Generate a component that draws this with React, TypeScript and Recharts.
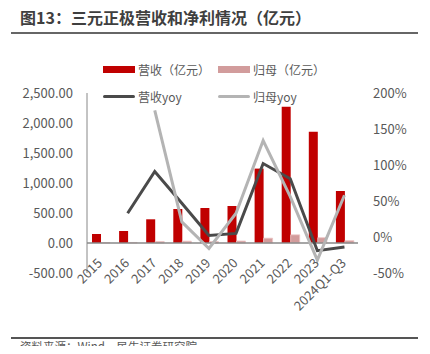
import { ComposedChart, Bar, Line, XAxis, YAxis, Legend, ReferenceLine } from 'recharts';

const years = ['2015', '2016', '2017', '2018', '2019', '2020', '2021', '2022', '2023', '2024Q1-Q3'];
const revenue = [150, 200, 395, 567, 583, 617, 1240, 2272, 1855, 867];
const netProfit = [6, 9, 25, 30, 25, 33, 80, 136, 88, 38];
const revenueYoy = [null, 33, 91, 47, 2, 5, 102, 81, -19, -14];
const profitYoy = [null, null, 176, 21, -16, 33, 134, 56, -32, 58];
const leftTicks = [-500, 0, 500, 1000, 1500, 2000, 2500];
const rightTicks = [-50, 0, 50, 100, 150, 200];

const data = years.map((year, i) => ({
  year,
  revenue: revenue[i],
  netProfit: netProfit[i],
  revenueYoy: revenueYoy[i],
  profitYoy: profitYoy[i],
}));

const FONT = "'Noto Sans CJK SC', 'Noto Sans', sans-serif";
const TEXT = '#595959';
const RED = '#C00000';
const PINK = '#D29C9C';
const DARK = '#4A4A4A';
const LIGHT = '#B4B4B4';

const formatLeft = (v: number) =>
  v.toLocaleString('en-US', { minimumFractionDigits: 2, maximumFractionDigits: 2 });

// category labels sit under the zero line, not under the plot
const XTick = ({ x, payload }: any) => {
  const px = x + 2.5;
  const py = 264;
  return (
    <text
      x={px}
      y={py}
      transform={`rotate(-45 ${px} ${py})`}
      textAnchor="end"
      fill={TEXT}
      fontSize={13}
      fontFamily={FONT}
    >
      {payload.value}
    </text>
  );
};

const legendItems = [
  { label: '营收（亿元）', kind: 'bar', color: RED, left: 103, top: 60 },
  { label: '归母（亿元）', kind: 'bar', color: PINK, left: 218, top: 60 },
  { label: '营收yoy', kind: 'line', color: DARK, left: 103, top: 87 },
  { label: '归母yoy', kind: 'line', color: LIGHT, left: 218, top: 87 },
];

const ChartLegend = () => (
  <div style={{ position: 'relative', width: 430, height: 0 }}>
    {legendItems.map((it) => (
      <div
        key={it.label}
        style={{
          position: 'absolute',
          left: it.left,
          top: it.top,
          height: 18,
          display: 'flex',
          alignItems: 'center',
          fontSize: 12,
          color: TEXT,
          fontFamily: FONT,
          whiteSpace: 'nowrap',
        }}
      >
        {it.kind === 'bar' ? (
          <span style={{ width: 32, height: 7, background: it.color, marginRight: 3 }} />
        ) : (
          <span style={{ width: 32, height: 3, borderRadius: 2, background: it.color, marginRight: 3 }} />
        )}
        {it.label}
      </div>
    ))}
  </div>
);

export default function App() {
  return (
    <div
      style={{
        position: 'relative',
        width: 430,
        height: 354,
        margin: -8,
        overflow: 'hidden',
        background: '#fff',
        fontFamily: FONT,
      }}
    >
      <div
        style={{
          position: 'absolute',
          left: 20,
          top: 5,
          fontSize: 16,
          fontWeight: 'bold',
          color: '#3f3f3f',
          whiteSpace: 'nowrap',
        }}
      >
        图13：三元正极营收和净利情况（亿元）
      </div>
      <div style={{ position: 'absolute', left: 11, top: 32, width: 407, height: 2, background: '#666' }} />

      <div style={{ position: 'absolute', left: 0, top: 0 }}>
        <ComposedChart
          width={430}
          height={336}
          data={data}
          margin={{ top: 93, right: 0, bottom: 0, left: 0 }}
          barGap={0}
        >
          <XAxis dataKey="year" height={63} axisLine={false} tickLine={false} tick={<XTick />} interval={0} />
          <YAxis
            yAxisId="left"
            width={87}
            domain={[-500, 2500]}
            ticks={leftTicks}
            tickFormatter={formatLeft}
            axisLine={{ stroke: '#888' }}
            tickLine={false}
            tickMargin={8}
            tick={{ fill: TEXT, fontSize: 13, fontFamily: FONT }}
          />
          <YAxis
            yAxisId="right"
            orientation="right"
            width={72}
            domain={[-50, 200]}
            ticks={rightTicks}
            tickFormatter={(v: number) => `${v}%`}
            axisLine={false}
            tickLine={false}
            tickMargin={9}
            tick={{ fill: TEXT, fontSize: 13, fontFamily: FONT, textAnchor: 'start' }}
          />
          <Legend verticalAlign="top" content={<ChartLegend />} wrapperStyle={{ top: 0, left: 0 }} />
          <ReferenceLine yAxisId="left" y={0} stroke="#888" strokeWidth={1.5} />
          <Bar yAxisId="left" dataKey="revenue" name="营收（亿元）" fill={RED} barSize={9} isAnimationActive={false} />
          <Bar
            yAxisId="left"
            dataKey="netProfit"
            name="归母（亿元）"
            fill={PINK}
            stroke="#EBC4C4"
            strokeWidth={0.8}
            barSize={9}
            isAnimationActive={false}
          />
          <Line
            yAxisId="right"
            dataKey="revenueYoy"
            name="营收yoy"
            stroke={DARK}
            strokeWidth={3}
            dot={false}
            type="linear"
            isAnimationActive={false}
          />
          <Line
            yAxisId="right"
            dataKey="profitYoy"
            name="归母yoy"
            stroke={LIGHT}
            strokeWidth={3}
            dot={false}
            type="linear"
            isAnimationActive={false}
          />
        </ComposedChart>
      </div>

      <div style={{ position: 'absolute', left: 11, top: 337, width: 407, height: 1.5, background: '#555' }} />
      <div style={{ position: 'absolute', left: 20, top: 338, fontSize: 11.5, color: TEXT, whiteSpace: 'nowrap' }}>
        资料来源：Wind，民生证券研究院
      </div>
    </div>
  );
}
